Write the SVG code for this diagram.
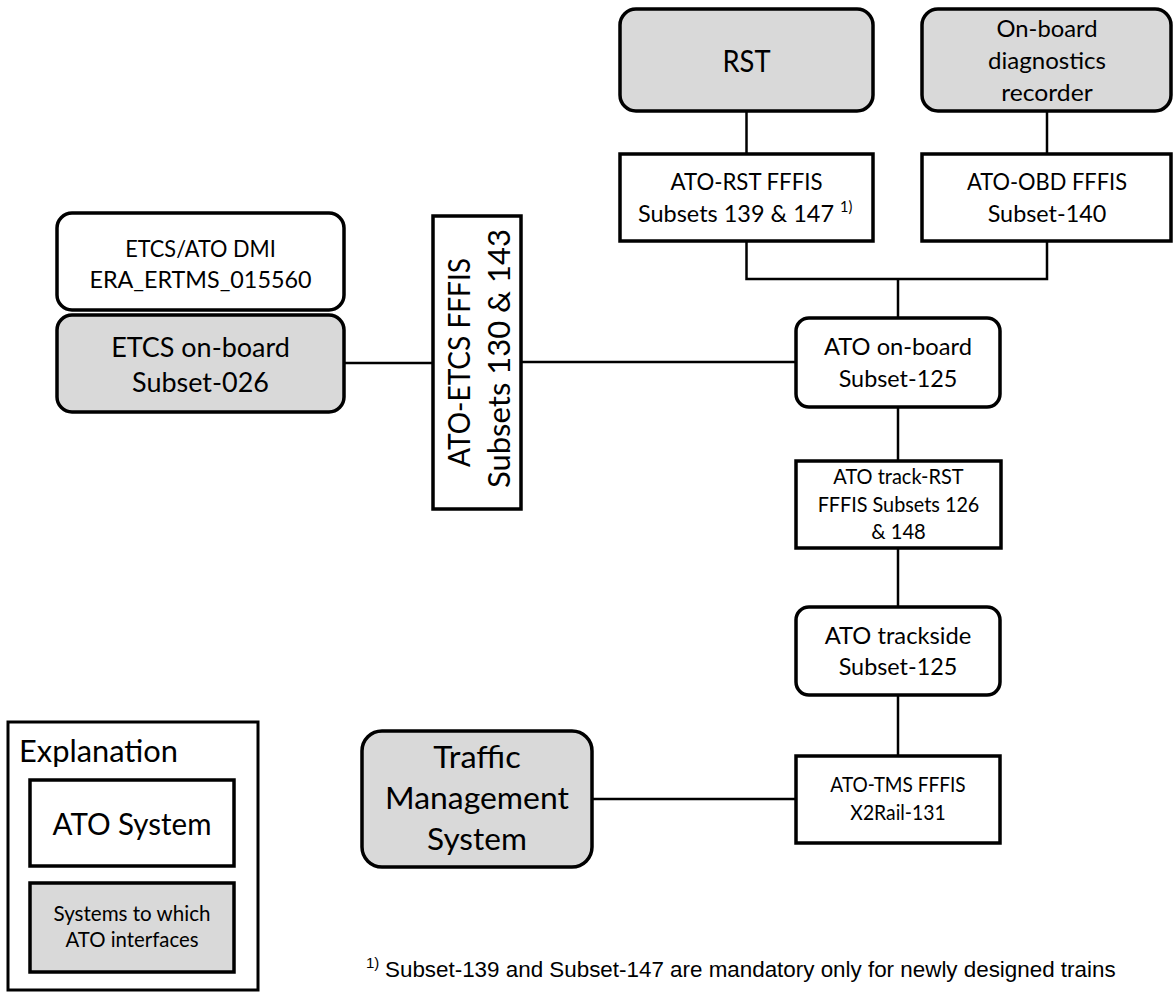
<svg xmlns="http://www.w3.org/2000/svg" width="1174" height="992" viewBox="0 0 1174 992">
<style>
  .box{fill:#ffffff;stroke:#000;stroke-width:3.5}
  .ext{fill:#d9d9d9;stroke:#000;stroke-width:3.5}
  .conn{fill:none;stroke:#000;stroke-width:2.5}
  text{font-family:Lato,Carlito,Calibri,"Open Sans",sans-serif;fill:#000;text-anchor:middle}
  .f34{font-size:30.5px}
  .f33{font-size:30px}
  .f30{font-size:27px}
  .f26{font-size:23.5px}
  .f25{font-size:22.5px}
  .f22{font-size:20.2px}
  .st{text-anchor:start}
  .foot{font-family:"Liberation Sans",Arial,sans-serif;font-size:22.4px;text-anchor:start}
  .sup{font-family:"Liberation Sans",Arial,sans-serif;font-size:15px;text-anchor:start}
</style>
<rect width="1174" height="992" fill="#fff"/>
<g id="connectors">
  <line class="conn" x1="746.5" y1="111" x2="746.5" y2="154"/>
  <line class="conn" x1="1047" y1="111" x2="1047" y2="154"/>
  <polyline class="conn" points="746.5,241 746.5,279 1047,279 1047,241"/>
  <line class="conn" x1="898" y1="279" x2="898" y2="318"/>
  <line class="conn" x1="344" y1="363" x2="433" y2="363"/>
  <line class="conn" x1="521" y1="362" x2="796" y2="362"/>
  <line class="conn" x1="898" y1="407" x2="898" y2="461"/>
  <line class="conn" x1="898" y1="548" x2="898" y2="607"/>
  <line class="conn" x1="898" y1="695" x2="898" y2="756"/>
  <line class="conn" x1="592" y1="799" x2="796" y2="799"/>
</g>
<g id="rst">
  <rect class="ext" x="620" y="9" width="253" height="102" rx="16"/>
  <text class="f34" x="746.5" y="72" textLength="48" lengthAdjust="spacingAndGlyphs">RST</text>
</g>
<g id="obd">
  <rect class="ext" x="922" y="9" width="249" height="102" rx="16"/>
  <text class="f26" x="1047" y="37" textLength="101" lengthAdjust="spacingAndGlyphs">On-board</text>
  <text class="f26" x="1047" y="69" textLength="118" lengthAdjust="spacingAndGlyphs">diagnostics</text>
  <text class="f26" x="1047" y="101" textLength="91.5" lengthAdjust="spacingAndGlyphs">recorder</text>
</g>
<g id="ato-rst-fffis">
  <rect class="box" x="620" y="154" width="253" height="87"/>
  <text class="f26" x="746.5" y="190" textLength="152" lengthAdjust="spacingAndGlyphs">ATO-RST FFFIS</text>
  <text class="f26 st" x="638" y="222" textLength="196" lengthAdjust="spacingAndGlyphs">Subsets 139 &amp; 147</text>
  <text class="f26 st" x="840" y="212" style="font-size:14.5px">1)</text>
</g>
<g id="ato-obd-fffis">
  <rect class="box" x="922" y="154" width="249" height="87"/>
  <text class="f26" x="1047" y="190" textLength="160" lengthAdjust="spacingAndGlyphs">ATO-OBD FFFIS</text>
  <text class="f26" x="1047" y="222" textLength="118.6" lengthAdjust="spacingAndGlyphs">Subset-140</text>
</g>
<g id="etcs-ato-dmi">
  <rect class="box" x="57" y="213" width="287" height="97" rx="15"/>
  <text class="f25" x="200.5" y="257" textLength="150.7" lengthAdjust="spacingAndGlyphs">ETCS/ATO DMI</text>
  <text class="f25" x="200.5" y="288" textLength="222" lengthAdjust="spacingAndGlyphs">ERA_ERTMS_015560</text>
</g>
<g id="etcs-onboard">
  <rect class="ext" x="57" y="315" width="287" height="97" rx="15"/>
  <text class="f30" x="200.5" y="357" textLength="178.7" lengthAdjust="spacingAndGlyphs">ETCS on-board</text>
  <text class="f30" x="200.5" y="392" textLength="136.8" lengthAdjust="spacingAndGlyphs">Subset-026</text>
</g>
<g id="ato-etcs-fffis">
  <rect class="box" x="433" y="216" width="88" height="293"/>
  <text class="f33" transform="translate(470,362.5) rotate(-90)" textLength="209" lengthAdjust="spacingAndGlyphs">ATO-ETCS FFFIS</text>
  <text class="f33" transform="translate(510,358.5) rotate(-90)" textLength="259" lengthAdjust="spacingAndGlyphs">Subsets 130 &amp; 143</text>
</g>
<g id="ato-onboard">
  <rect class="box" x="796" y="318" width="204" height="89" rx="13"/>
  <text class="f26" x="898" y="355" textLength="148" lengthAdjust="spacingAndGlyphs">ATO on-board</text>
  <text class="f26" x="898" y="387" textLength="118.6" lengthAdjust="spacingAndGlyphs">Subset-125</text>
</g>
<g id="ato-track-rst-fffis">
  <rect class="box" x="796" y="461" width="205" height="87"/>
  <text class="f22" x="898.5" y="484" textLength="130.3" lengthAdjust="spacingAndGlyphs">ATO track-RST</text>
  <text class="f22" x="898.5" y="512" textLength="161.7" lengthAdjust="spacingAndGlyphs">FFFIS Subsets 126</text>
  <text class="f22" x="898.5" y="539" textLength="54.7" lengthAdjust="spacingAndGlyphs">&amp; 148</text>
</g>
<g id="ato-trackside">
  <rect class="box" x="796" y="607" width="204" height="88" rx="13"/>
  <text class="f26" x="898" y="644" textLength="146.6" lengthAdjust="spacingAndGlyphs">ATO trackside</text>
  <text class="f26" x="898" y="675" textLength="118.6" lengthAdjust="spacingAndGlyphs">Subset-125</text>
</g>
<g id="ato-tms-fffis">
  <rect class="box" x="796" y="756" width="204" height="87"/>
  <text class="f22" x="898" y="792" textLength="135.3" lengthAdjust="spacingAndGlyphs">ATO-TMS FFFIS</text>
  <text class="f22" x="898" y="820" textLength="95.3" lengthAdjust="spacingAndGlyphs">X2Rail-131</text>
</g>
<g id="tms">
  <rect class="ext" x="362" y="731" width="230" height="136" rx="20"/>
  <text class="f34" x="477" y="768" textLength="87.6" lengthAdjust="spacingAndGlyphs">Traffic</text>
  <text class="f34" x="477" y="809" textLength="184" lengthAdjust="spacingAndGlyphs">Management</text>
  <text class="f34" x="477" y="850" textLength="99.8" lengthAdjust="spacingAndGlyphs">System</text>
</g>
<g id="legend">
  <rect x="8" y="722" width="250" height="268" fill="#fff" stroke="#000" stroke-width="3"/>
  <text class="f34 st" x="19" y="762" textLength="159" lengthAdjust="spacingAndGlyphs">Explanation</text>
  <rect class="box" x="30" y="780" width="204" height="86"/>
  <text class="f33" x="132" y="835" textLength="159" lengthAdjust="spacingAndGlyphs">ATO System</text>
  <rect class="ext" x="30" y="883" width="204" height="89"/>
  <text class="f22" x="132" y="921" textLength="157" lengthAdjust="spacingAndGlyphs">Systems to which</text>
  <text class="f22" x="132" y="947" textLength="133" lengthAdjust="spacingAndGlyphs">ATO interfaces</text>
</g>
<g id="footnote">
  <text class="sup" x="366" y="968">1)</text>
  <text class="foot" x="385" y="977">Subset-139 and Subset-147 are mandatory only for newly designed trains</text>
</g>
</svg>
